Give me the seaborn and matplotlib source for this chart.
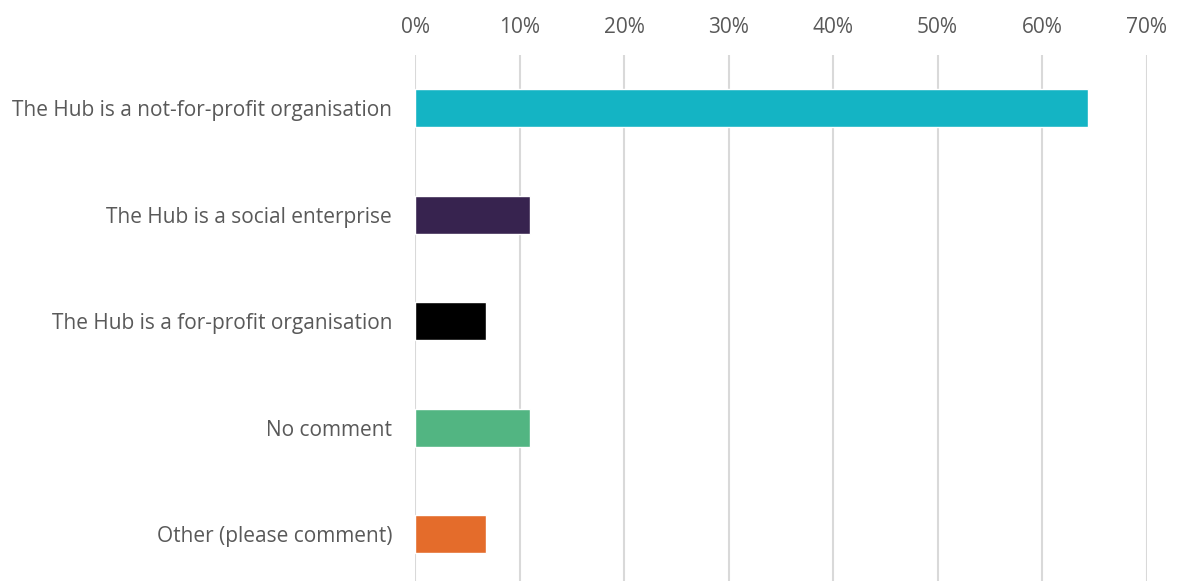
import matplotlib
matplotlib.use("Agg")
import matplotlib.pyplot as plt
import seaborn as sns
import pandas as pd
from matplotlib.ticker import PercentFormatter

categories = [
    "The Hub is a not-for-profit organisation",
    "The Hub is a social enterprise",
    "The Hub is a for-profit organisation",
    "No comment",
    "Other (please comment)",
]
shares = [0.644, 0.110, 0.068, 0.110, 0.068]
colors = ["#14B4C4", "#37234F", "#000000", "#52B582", "#E46C2B"]
x_ticks = [0.0, 0.1, 0.2, 0.3, 0.4, 0.5, 0.6, 0.7]

df = pd.DataFrame({"category": categories, "share": shares})

sns.set_theme(style="white")
plt.rcParams["font.family"] = ["Open Sans", "DejaVu Sans"]

W, H = 1177, 581
fig = plt.figure(figsize=(W / 100, H / 100), dpi=100)
ax = fig.add_axes([415 / W, 0, (1146.5 - 415) / W, (581 - 55) / H])

sns.barplot(data=df, x="share", y="category", hue="category",
            palette=colors, order=categories, hue_order=categories,
            width=0.36, legend=False, ax=ax, orient="h", saturation=1)

ax.set_xlim(0, 0.7)
ax.set_ylim(4.44, -0.5)
ax.set_xticks(x_ticks)
ax.xaxis.set_major_formatter(PercentFormatter(1.0, decimals=0))
ax.xaxis.tick_top()
ax.grid(axis="x", color="#D9D9D9", linewidth=1.5)
ax.grid(axis="y", visible=False)
ax.set_axisbelow(True)
for s in ax.spines.values():
    s.set_visible(False)
ax.tick_params(axis="x", colors="#595959", labelsize=15, length=0, pad=12)
ax.tick_params(axis="y", colors="#595959", labelsize=15, length=0, pad=16.5)
ax.set_xlabel("")
ax.set_ylabel("")

fig.savefig("out.png", dpi=100)
